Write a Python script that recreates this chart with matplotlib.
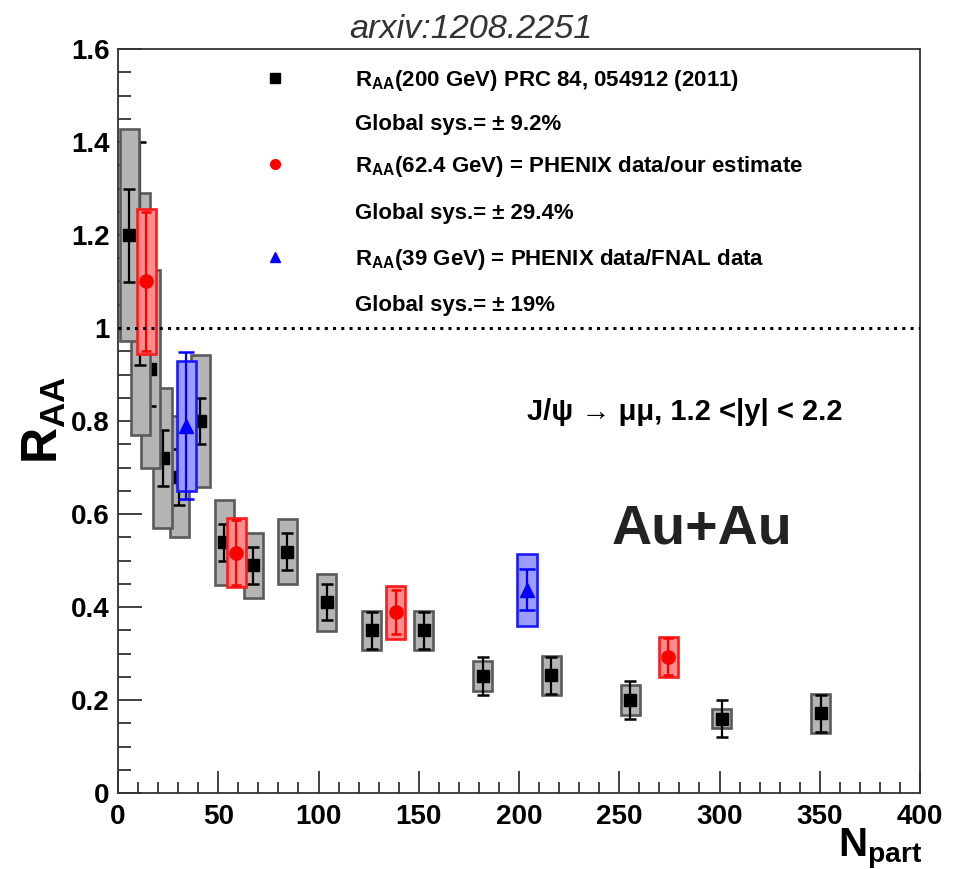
import matplotlib
matplotlib.use("Agg")
import matplotlib.pyplot as plt
from matplotlib.ticker import MultipleLocator

plt.rcParams['font.family'] = ['Liberation Sans', 'DejaVu Sans']
plt.rcParams['mathtext.fontset'] = 'custom'
plt.rcParams['mathtext.rm'] = 'Liberation Sans'
plt.rcParams['mathtext.bf'] = 'Liberation Sans:bold'
plt.rcParams['mathtext.it'] = 'Liberation Sans:italic'

# ---------------- data ----------------
# 200 GeV (PRC 84, 054912), ordered central -> peripheral
npart_200 = [350.5, 301, 255.5, 216, 182, 152.5, 126.5, 104, 84.5, 67.5, 53, 41, 30.5, 22.4, 16, 11, 5.6]
raa_200 = [0.171, 0.16, 0.20, 0.253, 0.252, 0.35, 0.35, 0.41, 0.519, 0.49, 0.539, 0.80, 0.68, 0.72, 0.912, 1.03, 1.20]
stat_lo_200 = [0.04, 0.04, 0.041, 0.04, 0.041, 0.04, 0.04, 0.039, 0.04, 0.04, 0.04, 0.05, 0.06, 0.06, 0.08, 0.11, 0.10]
stat_hi_200 = [0.04, 0.04, 0.041, 0.04, 0.041, 0.04, 0.04, 0.039, 0.04, 0.04, 0.04, 0.05, 0.06, 0.06, 0.08, 0.37, 0.10]
sys_200 = [0.042, 0.021, 0.033, 0.042, 0.032, 0.042, 0.042, 0.062, 0.07, 0.07, 0.092, 0.142, 0.13, 0.15, 0.212, 0.26, 0.229]

# 62.4 GeV
npart_62 = [274.5, 138.5, 59, 14]
raa_62 = [0.293, 0.389, 0.517, 1.10]
stat_62 = [0.04, 0.048, 0.07, 0.15]
sys_62 = [0.043, 0.057, 0.075, 0.155]

# 39 GeV
npart_39 = [204, 34]
raa_39 = [0.437, 0.79]
stat_39 = [0.044, 0.158]
sys_39 = [0.078, 0.14]

x_ticks = [0, 50, 100, 150, 200, 250, 300, 350, 400]
y_ticks = [0, 0.2, 0.4, 0.6, 0.8, 1.0, 1.2, 1.4, 1.6]
y_tick_labels = ["0", "0.2", "0.4", "0.6", "0.8", "1", "1.2", "1.4", "1.6"]

legend_labels = [
    r"R$_{\mathbf{AA}}$(200 GeV) PRC 84, 054912 (2011)",
    "Global sys.= \u00b1 9.2%",
    r"R$_{\mathbf{AA}}$(62.4 GeV) = PHENIX data/our estimate",
    "Global sys.= \u00b1 29.4%",
    r"R$_{\mathbf{AA}}$(39 GeV) = PHENIX data/FNAL data",
    "Global sys.= \u00b1 19%",
]

# ---------------- figure ----------------
W, H = 957, 869
fig = plt.figure(figsize=(W / 100, H / 100), dpi=100)
L, R, T, B = 118, 920, 49, 793
ax = fig.add_axes([L / W, 1 - B / H, (R - L) / W, (B - T) / H])

BOXW = 9.5
styles = {
    "200": dict(face="#b4b4b4", edge="#5a5a5a", col="black", marker="s", ms=8.5, cap=4.3),
    "62": dict(face="#ff8c8c", edge="#ff1a1a", col="#ff0000", marker="o", ms=9.5, cap=3.8),
    "39": dict(face="#9c9cff", edge="#1a1aff", col="#0000ff", marker="^", ms=9.5, cap=5.5),
}

z = 2
st = styles["200"]
for n, v, lo, hi, s in zip(npart_200, raa_200, stat_lo_200, stat_hi_200, sys_200):
    ax.bar(n, 2 * s, bottom=v - s, width=BOXW, color=st["face"], edgecolor=st["edge"],
           linewidth=1.9, zorder=z)
    ax.errorbar(n, v, yerr=[[lo], [hi]], fmt=st["marker"], color=st["col"], ms=st["ms"],
                elinewidth=1.6, capsize=st["cap"], capthick=1.8, zorder=z + 1)
    z += 2

for key, ns, vs, es, ss in (("62", npart_62, raa_62, stat_62, sys_62),
                            ("39", npart_39, raa_39, stat_39, sys_39)):
    st = styles[key]
    for n, v, e, s in zip(ns, vs, es, ss):
        ax.bar(n, 2 * s, bottom=v - s, width=BOXW, color=st["face"], edgecolor=st["edge"],
               linewidth=1.9, zorder=z)
        ax.errorbar(n, v, yerr=e, fmt=st["marker"], color=st["col"], ms=st["ms"],
                    elinewidth=1.6, capsize=st["cap"], capthick=1.8, zorder=z + 1)
        z += 2

ax.axhline(1.0, color="black", lw=2.2, linestyle=(0, (1.0, 1.7)), zorder=200)

ax.set_xlim(0, 400)
ax.set_ylim(0, 1.6)
ax.set_xticks(x_ticks, labels=[str(t) for t in x_ticks], fontsize=20, fontweight="bold")
ax.set_yticks(y_ticks, labels=y_tick_labels, fontsize=20, fontweight="bold")
ax.xaxis.set_minor_locator(MultipleLocator(10))
ax.yaxis.set_minor_locator(MultipleLocator(0.05))
ax.tick_params(which="both", direction="in", top=False, right=False, color="#333333")
ax.tick_params(axis="y", which="major", length=17.5, width=1.3, pad=6)
ax.tick_params(axis="y", which="minor", length=9, width=1.3)
ax.tick_params(axis="x", which="major", length=16, width=1.3, pad=8)
ax.tick_params(axis="x", which="minor", length=8, width=1.3)
for sp in ax.spines.values():
    sp.set_color("#333333")
    sp.set_linewidth(1.3)

# legend (manual, ROOT-like)
rows = [78, 122, 164, 211, 257, 303]
for lab, yc in zip(legend_labels, rows):
    fig.text(355 / W, 1 - (yc + 8) / H, lab, fontsize=16, fontweight="bold",
             ha="left", va="baseline")
for key, yc in zip(("200", "62", "39"), (78, 164, 257)):
    st = styles[key]
    ax.plot([(275 - L) / (R - L)], [(B - yc) / (B - T)], transform=ax.transAxes,
            marker=st["marker"], color=st["col"], ms=7, linestyle="none", clip_on=False)

# annotations
fig.text(527 / W, 1 - (412 + 8) / H, "J/\u03c8 \u2192 \u03bc\u03bc, 1.2 <|y| < 2.2",
         fontsize=21, fontweight="bold", ha="left", va="baseline")
fig.text(612 / W, 1 - (525 + 19) / H, "Au+Au", fontsize=40, fontweight="bold",
         color="#222222", ha="left", va="baseline")

# title
fig.text(471 / W, 1 - 37.5 / H, "arxiv:1208.2251", fontsize=24.7, style="italic",
         color="#333333", ha="center", va="baseline")

# axis titles
fig.text(44 / W, 1 - 420 / H, r"R$_{\mathbf{AA}}$", fontsize=36, fontweight="bold",
         rotation=90, ha="center", va="center")
fig.text(922 / W, 1 - 856 / H, r"N$_{\mathbf{part}}$", fontsize=29, fontweight="bold",
         ha="right", va="baseline")

fig.savefig("out.png", dpi=100)
